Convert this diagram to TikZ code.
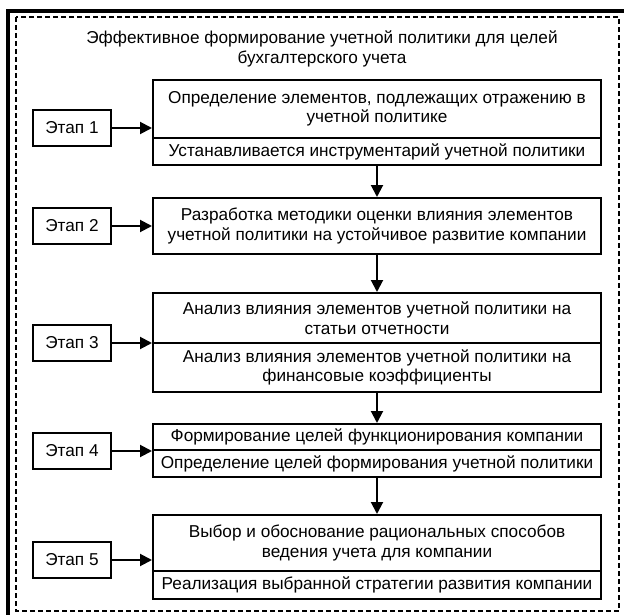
\documentclass[tikz,border=0pt]{standalone}
\usepackage{fontspec}
\setmainfont{Liberation Sans}
\usetikzlibrary{arrows.meta}
\begin{document}
\begin{tikzpicture}[x=1pt,y=-1pt,
  txt/.style={font=\fontsize{17.2}{19.5}\selectfont},
  part/.style={draw,line width=2pt,minimum width=448pt,inner sep=0pt,align=center,txt},
  stagebox/.style={draw,line width=2pt,minimum width=78pt,minimum height=36pt,inner sep=0pt,txt},
  arr/.style={line width=2pt,-{Triangle[length=12pt,width=12pt]}}]
\useasboundingbox (0,0) rectangle (624,615);
\draw[line width=4pt] (7.5,615) -- (7.5,11) -- (624,11);
\draw[line width=2pt,dash pattern=on 5pt off 3pt] (16,17) rectangle (619,611);
\node[txt,align=center] (title) at (322,49) {Эффективное формирование учетной политики для целей\\бухгалтерского учета};
\node[part,minimum height=58pt] (b1a) at (377,109) {Определение элементов, подлежащих отражению в\\учетной политике};
\node[part,minimum height=27pt] (b1b) at (377,151.5) {Устанавливается инструментарий учетной политики};
\node[part,minimum height=56pt] (b2) at (377,226) {Разработка методики оценки влияния элементов\\учетной политики на устойчивое развитие компании};
\node[part,minimum height=50pt] (b3a) at (377,318) {Анализ влияния элементов учетной политики на\\статьи отчетности};
\node[part,minimum height=49pt] (b3b) at (377,367.5) {Анализ влияния элементов учетной политики на\\финансовые коэффициенты};
\node[part,minimum height=26pt] (b4a) at (377,437) {Формирование целей функционирования компании};
\node[part,minimum height=27pt] (b4b) at (377,463.5) {Определение целей формирования учетной политики};
\node[part,minimum height=56pt] (b5a) at (377,543) {Выбор и обоснование рациональных способов\\ведения учета для компании};
\node[part,minimum height=28pt] (b5b) at (377,585) {Реализация выбранной стратегии развития компании};
\node[stagebox] (e1) at (72,128) {Этап 1};
\node[stagebox] (e2) at (72,226) {Этап 2};
\node[stagebox] (e3) at (72,343) {Этап 3};
\node[stagebox] (e4) at (72,451) {Этап 4};
\node[stagebox] (e5) at (72,560) {Этап 5};
\draw[arr] (e1.east) -- (e1.east -| b1a.west);
\draw[arr] (e2.east) -- (e2.east -| b2.west);
\draw[arr] (e3.east) -- (e3.east -| b3a.west);
\draw[arr] (e4.east) -- (e4.east -| b4a.west);
\draw[arr] (e5.east) -- (e5.east -| b5a.west);
\draw[arr] (b1b.south) -- (b2.north);
\draw[arr] (b2.south) -- (b3a.north);
\draw[arr] (b3b.south) -- (b4a.north);
\draw[arr] (b4b.south) -- (b5a.north);
\end{tikzpicture}
\end{document}
